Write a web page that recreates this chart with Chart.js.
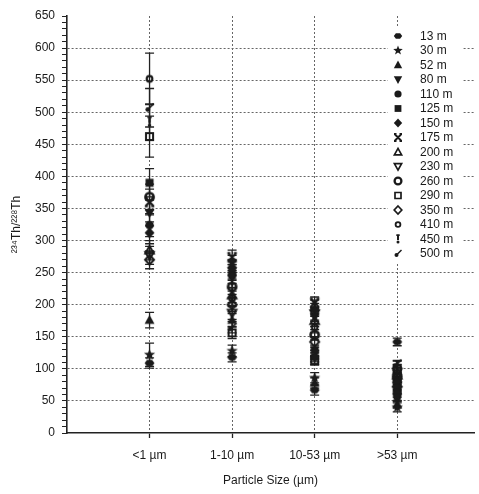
<!DOCTYPE html>
<html>
<head>
<meta charset="utf-8">
<script src="https://cdn.jsdelivr.net/npm/chart.js@4.4.0/dist/chart.umd.min.js"></script>
<style>
  html, body { margin: 0; padding: 0; background: #fff; overflow: hidden; }
</style>
</head>
<body>
<canvas id="chart" width="479" height="494"></canvas>
<script>
// particle size classes (x positions 1..4)
const categories = ["<1 µm", "1-10 µm", "10-53 µm", ">53 µm"];

// sampling depths, same order in every value / error array below
const depths = ["13 m", "30 m", "52 m", "80 m", "110 m", "125 m", "150 m", "175 m",
  "200 m", "230 m", "260 m", "290 m", "350 m", "410 m", "450 m", "500 m"];
const markers = ["hex", "star", "tri", "triDown", "circle", "square", "diamond", "cross",
  "triOpen", "triDownOpen", "ring", "squareOpen", "diamondOpen", "ringSmall", "bang", "tick"];

// 234Th/228Th ratio per depth, one array per size class
const ratioLt1 = [109, 122, 176, 343, 324, 390, 312, 360, 285, 277, 368, 462, 270, 552, 485, 507];
const ratio1to10 = [118, 128, 176, 265, 245, 250, 258, 274, 215, 187, 228, 156, 200, 210, 238, 165];
const ratio10to53 = [67, 86, 78, 181, 118, 129, 192, 203, 175, 186, 153, 113, 142, 165, 197, 122];
const ratioGt53 = [142, 40, 45, 55, 62, 70, 80, 85, 90, 95, 88, 100, 72, 56, 105, 108];

// +/- uncertainty
const errLt1 = [8, 18, 12, 20, 18, 22, 17, 20, 15, 14, 20, 32, 14, 40, 28, 30];
const err1to10 = [7, 9, 10, 12, 12, 12, 12, 11, 12, 10, 12, 9, 11, 11, 12, 9];
const err10to53 = [8, 8, 8, 10, 7, 8, 10, 9, 9, 10, 8, 7, 8, 9, 10, 7];
const errGt53 = [6, 7, 6, 6, 6, 6, 7, 6, 7, 7, 6, 7, 6, 6, 7, 5];

const ratioCols = [ratioLt1, ratio1to10, ratio10to53, ratioGt53];
const errCols = [errLt1, err1to10, err10to53, errGt53];

const ink = "#1a1a1a";
const fontFamily = "'Liberation Sans Narrow', 'Liberation Sans', Arial, sans-serif";

function drawMarker(g, kind, x, y, k) {
  g.save();
  g.translate(x, y);
  g.scale(k, k);
  x = 0; y = 0;
  g.fillStyle = ink;
  g.strokeStyle = ink;
  g.lineWidth = 1.7;
  const r = 3.6;
  g.beginPath();
  switch (kind) {
    case "hex":
      for (let n = 0; n < 6; n++) {
        const a = n * Math.PI / 3;
        g.lineTo(x + 4.2 * Math.cos(a), y + 3.3 * Math.sin(a));
      }
      g.closePath(); g.fill();
      break;
    case "star":
      for (let n = 0; n < 10; n++) {
        const a = -Math.PI / 2 + n * Math.PI / 5;
        const rr = n % 2 === 0 ? 5 : 2.1;
        g.lineTo(x + rr * Math.cos(a), y + rr * Math.sin(a));
      }
      g.closePath(); g.fill();
      break;
    case "tri":
      g.moveTo(x, y - 4.4); g.lineTo(x + 4.2, y + 3.2); g.lineTo(x - 4.2, y + 3.2);
      g.closePath(); g.fill();
      break;
    case "triDown":
      g.moveTo(x, y + 4.4); g.lineTo(x + 4.2, y - 3.2); g.lineTo(x - 4.2, y - 3.2);
      g.closePath(); g.fill();
      break;
    case "circle":
      g.arc(x, y, r, 0, Math.PI * 2); g.fill();
      break;
    case "square":
      g.rect(x - 3.4, y - 3.4, 6.8, 6.8); g.fill();
      break;
    case "diamond":
      g.moveTo(x, y - 4.6); g.lineTo(x + 4.2, y); g.lineTo(x, y + 4.6); g.lineTo(x - 4.2, y);
      g.closePath(); g.fill();
      break;
    case "cross":
      g.lineWidth = 2;
      g.moveTo(x - 3, y - 3); g.lineTo(x + 3, y + 3);
      g.moveTo(x + 3, y - 3); g.lineTo(x - 3, y + 3);
      g.moveTo(x - 4, y - 3.5); g.lineTo(x - 1.5, y - 3.5);
      g.moveTo(x + 1.5, y - 3.5); g.lineTo(x + 4, y - 3.5);
      g.moveTo(x - 4, y + 3.5); g.lineTo(x - 1.5, y + 3.5);
      g.moveTo(x + 1.5, y + 3.5); g.lineTo(x + 4, y + 3.5);
      g.stroke();
      break;
    case "triOpen":
      g.moveTo(x, y - 3.6); g.lineTo(x + 3.6, y + 2.8); g.lineTo(x - 3.6, y + 2.8);
      g.closePath(); g.stroke();
      break;
    case "triDownOpen":
      g.moveTo(x, y + 3.6); g.lineTo(x + 3.6, y - 2.8); g.lineTo(x - 3.6, y - 2.8);
      g.closePath(); g.stroke();
      break;
    case "ring":
      g.lineWidth = 2.3;
      g.arc(x, y, 3.4, 0, Math.PI * 2); g.stroke();
      break;
    case "squareOpen":
      g.rect(x - 3, y - 3, 6, 6); g.stroke();
      break;
    case "diamondOpen":
      g.moveTo(x, y - 4); g.lineTo(x + 3.8, y); g.lineTo(x, y + 4); g.lineTo(x - 3.8, y);
      g.closePath(); g.stroke();
      break;
    case "ringSmall":
      g.lineWidth = 1.8;
      g.arc(x, y, 2.4, 0, Math.PI * 2); g.stroke();
      break;
    case "bang":
      g.fillRect(x - 1, y - 4.5, 2, 5.5);
      g.fillRect(x - 2, y - 4.5, 4, 1.2);
      g.arc(x, y + 3, 1.5, 0, Math.PI * 2); g.fill();
      break;
    case "tick":
      g.arc(x - 1.5, y + 1.5, 2, 0, Math.PI * 2); g.fill();
      g.beginPath(); g.lineWidth = 1.5;
      g.moveTo(x - 1, y + 1); g.lineTo(x + 3.5, y - 3.5); g.stroke();
      break;
  }
  g.restore();
}

function markerCanvas(kind) {
  const c = document.createElement("canvas");
  c.width = 15; c.height = 15;
  drawMarker(c.getContext("2d"), kind, 7.5, 7.5, 1.18);
  return c;
}

const datasets = depths.map((d, i) => ({
  label: d,
  data: categories.map((c, j) => ({ x: j + 1, y: ratioCols[j][i] })),
  pointStyle: markerCanvas(markers[i]),
  showLine: false
}));

// vertical error bars with caps, drawn under the markers
const errorBars = {
  id: "errorBars",
  beforeDatasetsDraw(chart) {
    const { ctx, scales: { x, y } } = chart;
    ctx.save();
    ctx.strokeStyle = "#222";
    ctx.lineWidth = 1.3;
    depths.forEach((d, i) => {
      categories.forEach((c, j) => {
        const px = x.getPixelForValue(j + 1);
        const v = ratioCols[j][i], e = errCols[j][i];
        const top = y.getPixelForValue(v + e), bot = y.getPixelForValue(v - e);
        ctx.beginPath();
        ctx.moveTo(px, top); ctx.lineTo(px, bot);
        ctx.moveTo(px - 4.5, top); ctx.lineTo(px + 4.5, top);
        ctx.moveTo(px - 4.5, bot); ctx.lineTo(px + 4.5, bot);
        ctx.stroke();
      });
    });
    ctx.restore();
  }
};

// legend box inside the plot, top right
const depthLegend = {
  id: "depthLegend",
  afterDraw(chart) {
    const ctx = chart.ctx;
    ctx.save();
    ctx.fillStyle = "#fff";
    ctx.fillRect(388, 26, 75, 237);
    ctx.font = "12px " + fontFamily;
    ctx.textBaseline = "middle";
    ctx.textAlign = "left";
    depths.forEach((d, i) => {
      const yy = 36 + i * 14.5;
      drawMarker(ctx, markers[i], 398, yy, 1);
      ctx.fillStyle = ink;
      ctx.fillText(d, 420, yy + 0.5);
    });
    ctx.restore();
  }
};

new Chart(document.getElementById("chart"), {
  type: "scatter",
  data: { datasets },
  options: {
    responsive: false,
    animation: false,
    events: [],
    layout: { padding: { top: 16, left: 0, right: 0, bottom: 0 } },
    plugins: { legend: { display: false }, tooltip: { enabled: false } },
    scales: {
      x: {
        type: "linear",
        min: 0,
        max: 4.93,
        afterBuildTicks: s => { s.ticks = [1, 2, 3, 4].map(v => ({ value: v })); },
        afterFit: s => { s.height = 61; },
        ticks: {
          callback: v => categories[v - 1],
          autoSkip: false,
          maxRotation: 0,
          padding: 10,
          color: ink,
          font: { family: fontFamily, size: 12 }
        },
        grid: { color: "#666", lineWidth: 1, tickLength: 5, tickColor: "#222", tickWidth: 1.3 },
        border: { color: "#222", width: 1.6, dash: [2, 2] },
        title: {
          display: true,
          text: "Particle Size (µm)",
          color: ink,
          font: { family: "'Liberation Sans', Arial, sans-serif", size: 12 },
          padding: { top: 0, bottom: 6 }
        }
      },
      y: {
        min: 0,
        max: 650,
        afterFit: s => { s.width = 67; },
        ticks: {
          stepSize: 10,
          autoSkip: false,
          padding: 7,
          callback: v => (v % 50 === 0 ? v : ""),
          color: ink,
          font: { family: fontFamily, size: 12 }
        },
        grid: {
          color: c => (c.tick && c.tick.value % 50 === 0 && c.tick.value > 0 && c.tick.value < 650) ? "#666" : "rgba(0,0,0,0)",
          lineWidth: 1,
          tickLength: 5,
          tickColor: "#222",
          tickWidth: 1
        },
        border: { color: "#222", width: 1.6, dash: [2, 2] },
        title: {
          display: true,
          text: "²³⁴Th/²²⁸Th",
          color: ink,
          font: { family: "'Liberation Sans', Arial, sans-serif", size: 12 },
          padding: { top: 9, bottom: 0 }
        }
      }
    }
  },
  plugins: [errorBars, depthLegend]
});
</script>
</body>
</html>
